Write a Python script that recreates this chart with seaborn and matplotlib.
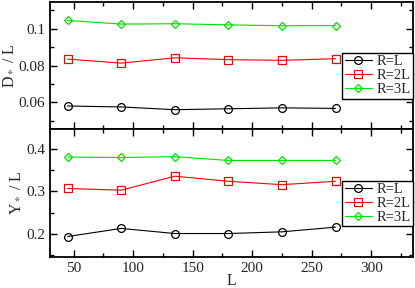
import matplotlib
matplotlib.use("Agg")
import matplotlib.pyplot as plt
import seaborn as sns
import pandas as pd
from matplotlib.ticker import MultipleLocator

sns.set_style("ticks")
plt.rcParams['font.family'] = ['Liberation Serif', 'DejaVu Serif']
plt.rcParams['mathtext.fontset'] = 'stix'

L_vals = [45, 90, 135, 180, 225, 270]
series = ["R=L", "R=2L", "R=3L"]
colors = ["#000000", "#ff0000", "#00e000"]
markers = ["o", "s", "D"]
msizes = [5.6, 5.2, 4.4]

D_RL = [0.0580, 0.0575, 0.0560, 0.0565, 0.0570, 0.0567]
D_R2L = [0.0835, 0.0813, 0.0842, 0.0832, 0.0828, 0.0837]
D_R3L = [0.1045, 0.1025, 0.1027, 0.1021, 0.1016, 0.1017]

Y_RL = [0.194, 0.213, 0.201, 0.201, 0.205, 0.216]
Y_R2L = [0.307, 0.303, 0.336, 0.324, 0.316, 0.324]
Y_R3L = [0.381, 0.380, 0.382, 0.373, 0.373, 0.373]

fig = plt.figure(figsize=(4.15, 2.88), dpi=100)
ax1 = fig.add_axes([0.120, 0.552, 0.875, 0.441])
ax2 = fig.add_axes([0.120, 0.108, 0.875, 0.444], sharex=ax1)

def draw(ax, ys):
    for name, y, c, m, ms in zip(series, ys, colors, markers, msizes):
        df = pd.DataFrame({"L": L_vals, "v": y})
        sns.lineplot(data=df, x="L", y="v", ax=ax, color=c, marker=m,
                     markersize=ms, mfc="none", mec=c, mew=0.9, lw=0.8,
                     label=name, legend=False)
    leg = ax.legend(loc="lower right", bbox_to_anchor=(1.0, 0.24),
                    frameon=True, fancybox=False, framealpha=1,
                    edgecolor="black", fontsize=10.5, handlelength=1.9,
                    handletextpad=0.3, borderpad=0.15, labelspacing=0.05,
                    borderaxespad=0.0)
    leg.get_frame().set_linewidth(1.0)

draw(ax1, [D_RL, D_R2L, D_R3L])
draw(ax2, [Y_RL, Y_R2L, Y_R3L])

ax1.set_xlim(30, 335)
ax1.set_ylim(0.0455, 0.1145)
ax2.set_ylim(0.146, 0.447)

ax1.set_yticks([0.06, 0.08, 0.1])
ax1.set_yticklabels(["0.06", "0.08", "0.1"])
ax1.yaxis.set_minor_locator(MultipleLocator(0.01))
ax2.set_yticks([0.2, 0.3, 0.4])
ax2.set_yticklabels(["0.2", "0.3", "0.4"])
ax2.yaxis.set_minor_locator(MultipleLocator(0.05))
ax2.xaxis.set_major_locator(MultipleLocator(50))
ax2.xaxis.set_minor_locator(MultipleLocator(25))

for ax in (ax1, ax2):
    ax.tick_params(which="both", direction="in", top=True, right=True,
                   labelsize=11, width=1.0, color="black")
    ax.tick_params(which="major", length=5)
    ax.tick_params(which="minor", length=3)
    for s in ax.spines.values():
        s.set_linewidth(1.3)
        s.set_color("black")
ax1.tick_params(labelbottom=False)

ax1.set_xlabel("")
ax1.set_ylabel(r"D$_*$ / L", fontsize=11.5, labelpad=2)
ax2.set_ylabel(r"Y$_*$ / L", fontsize=11.5, labelpad=2)
ax2.set_xlabel("L", fontsize=11.5, labelpad=-1)

fig.savefig("out.png", dpi=100)
